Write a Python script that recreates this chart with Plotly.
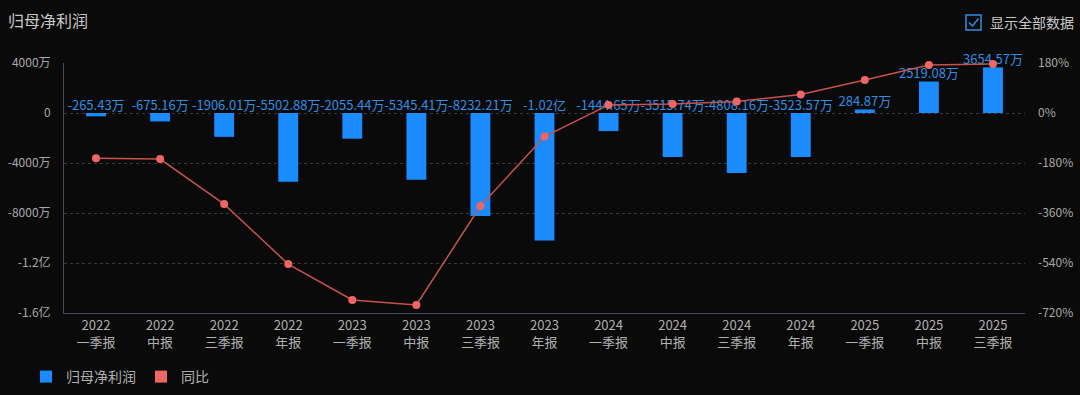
import plotly.graph_objects as go

categories = ["2022<br>一季报", "2022<br>中报", "2022<br>三季报", "2022<br>年报",
              "2023<br>一季报", "2023<br>中报", "2023<br>三季报", "2023<br>年报",
              "2024<br>一季报", "2024<br>中报", "2024<br>三季报", "2024<br>年报",
              "2025<br>一季报", "2025<br>中报", "2025<br>三季报"]
# 归母净利润, unit: 万元
profit_wan = [-265.43, -675.16, -1906.01, -5502.88, -2055.44, -5345.41, -8232.21, -10200.00,
              -1444.65, -3515.74, -4808.16, -3523.57, 284.87, 2519.08, 3654.57]
# 同比, unit: %
yoy_pct = [-163, -166, -328, -544, -673, -691, -335, -85,
           29, 32, 41, 67, 119, 173, 176]

left_tickvals = [4000, 0, -4000, -8000, -12000, -16000]
left_ticktext = ["4000万", "0", "-4000万", "-8000万", "-1.2亿", "-1.6亿"]
right_tickvals = [180, 0, -180, -360, -540, -720]
right_ticktext = ["180%", "0%", "-180%", "-360%", "-540%", "-720%"]


def fmt(v):
    if abs(v) >= 10000:
        return f"{v / 10000:.2f}亿"
    return f"{v:.2f}万"


labels = [fmt(v) for v in profit_wan]
label_y = [max(v, 0) for v in profit_wan]

FONT = "Noto Sans CJK SC, Microsoft YaHei, sans-serif"
BG = "#0a0a0a"
BLUE = "#1a8cff"
RED_LINE = "#c9524e"
RED_MK = "#ee6666"

L, R, T, B = 64, 55, 63, 82
PW, PH = 1080 - L - R, 395 - T - B

fig = go.Figure()
fig.add_trace(go.Bar(
    x=categories, y=profit_wan, name="归母净利润",
    marker=dict(color=BLUE, line=dict(width=0)), width=0.31,
    yaxis="y", hoverinfo="x+y", showlegend=True,
))
fig.add_trace(go.Scatter(
    x=categories, y=label_y, mode="text", text=labels,
    textposition="top center",
    textfont=dict(color="#2f8fe3", size=13, family=FONT),
    yaxis="y", showlegend=False, hoverinfo="skip", cliponaxis=False,
))
fig.add_trace(go.Scatter(
    x=categories, y=yoy_pct, name="同比", mode="lines+markers",
    line=dict(color=RED_LINE, width=1.5),
    marker=dict(color=RED_MK, size=8),
    yaxis="y2", showlegend=False, cliponaxis=False,
))
# legend entry for 同比 shown as a square
fig.add_trace(go.Scatter(
    x=[None], y=[None], name="同比", mode="markers",
    marker=dict(color=RED_MK, size=13, symbol="square"),
    yaxis="y2", showlegend=True,
))

fig.update_layout(
    width=1080, height=395,
    paper_bgcolor=BG, plot_bgcolor=BG,
    margin=dict(l=L, r=R, t=T, b=B, autoexpand=False),
    font=dict(family=FONT, color="#a8a8a8", size=12),
    xaxis=dict(
        type="category", range=[-0.5, len(categories) - 0.5],
        tickfont=dict(size=13, color="#b0b0b0"),
        showgrid=False, showline=True, linecolor="#454b57", linewidth=1,
        ticks="", zeroline=False, fixedrange=True, automargin=False,
    ),
    yaxis=dict(
        range=[-16000, 4000], tickvals=left_tickvals, ticktext=left_ticktext,
        showgrid=True, gridcolor="#3a3a3a", griddash="dot", gridwidth=1,
        zeroline=False, showline=True, linecolor="#454b57", linewidth=1,
        tickfont=dict(size=12, color="#a8a8a8"), ticks="", automargin=False,
        ticklabelstandoff=10,
    ),
    yaxis2=dict(
        range=[-720, 180], tickvals=right_tickvals, ticktext=right_ticktext,
        overlaying="y", side="right", showgrid=False, zeroline=False,
        showline=False, tickfont=dict(size=12, color="#a8a8a8"), automargin=False,
        ticklabelstandoff=12,
    ),
    legend=dict(
        orientation="h", xref="container", yref="container",
        x=26 / 1080, y=(395 - 377) / 395, xanchor="left", yanchor="middle",
        font=dict(size=14, color="#b0b0b0"), bgcolor="rgba(0,0,0,0)",
        itemsizing="constant", traceorder="normal", itemwidth=30,
    ),
    showlegend=True,
)

fig.add_annotation(
    text="归母净利润", xref="paper", yref="paper",
    x=(6 - L) / PW, y=1 + (T - 20) / PH, xanchor="left", yanchor="middle",
    showarrow=False, font=dict(size=16, color="#c8c8c8", family=FONT),
)
fig.add_annotation(
    text="显示全部数据", xref="paper", yref="paper",
    x=(988 - L) / PW, y=1 + (T - 22) / PH, xanchor="left", yanchor="middle",
    showarrow=False, font=dict(size=14, color="#c8c8c8", family=FONT),
)
# checkbox
fig.add_shape(type="rect", xref="paper", yref="paper",
              x0=(966 - L) / PW, x1=(981 - L) / PW,
              y0=1 + (T - 30) / PH, y1=1 + (T - 15) / PH,
              line=dict(color="#2f8fe3", width=1.5))
fig.add_shape(type="path", xref="paper", yref="paper",
              path=(f"M {(969 - L) / PW},{1 + (T - 22.5) / PH} "
                    f"L {(972.5 - L) / PW},{1 + (T - 26) / PH} "
                    f"L {(978.5 - L) / PW},{1 + (T - 18.5) / PH}"),
              line=dict(color="#2f8fe3", width=1.5))

fig.write_html("out.html")
